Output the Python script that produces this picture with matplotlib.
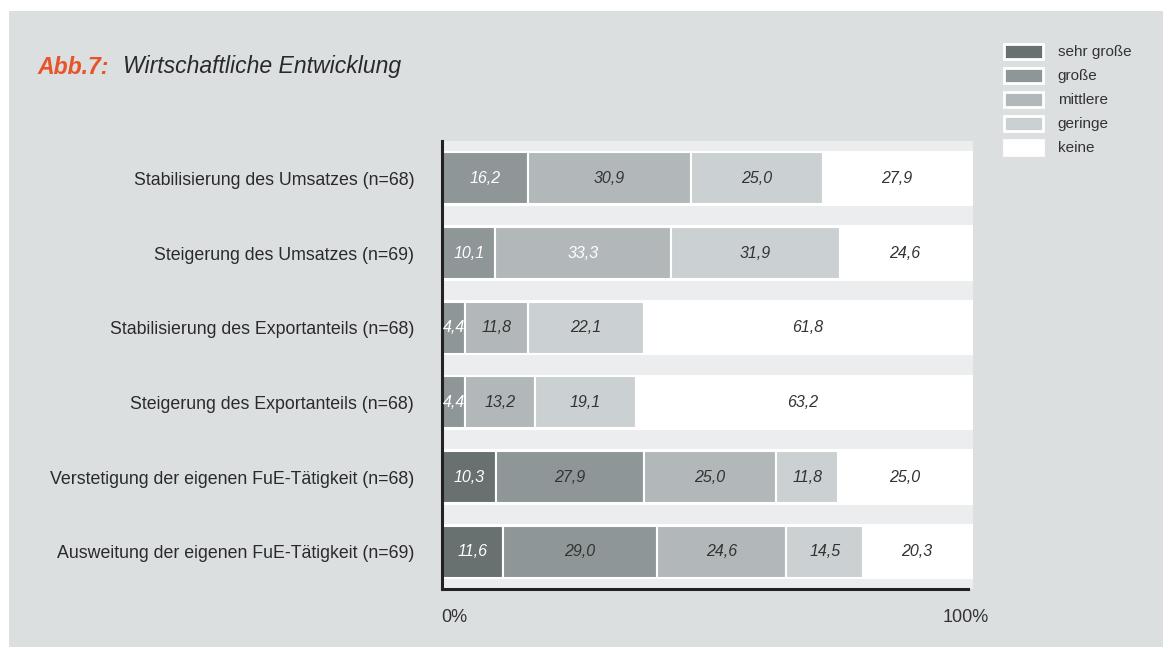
import matplotlib
import matplotlib.pyplot as plt
from matplotlib.patches import Rectangle, Patch

matplotlib.use('Agg')
plt.rcParams['font.family'] = ['Liberation Sans', 'DejaVu Sans']

categories = ['Stabilisierung des Umsatzes (n=68)',
              'Steigerung des Umsatzes (n=69)',
              'Stabilisierung des Exportanteils (n=68)',
              'Steigerung des Exportanteils (n=68)',
              'Verstetigung der eigenen FuE-Tätigkeit (n=68)',
              'Ausweitung der eigenen FuE-Tätigkeit (n=69)']
levels = ['sehr große', 'große', 'mittlere', 'geringe', 'keine']

sehr_gross = [0, 0, 0, 0, 10.3, 11.6]
gross = [16.2, 10.1, 4.4, 4.4, 27.9, 29.0]
mittlere = [30.9, 33.3, 11.8, 13.2, 25.0, 24.6]
geringe = [25.0, 31.9, 22.1, 19.1, 11.8, 14.5]
keine = [27.9, 24.6, 61.8, 63.2, 25.0, 20.3]

# labels drawn in white (row, level)
white_labels = [(0, 1), (1, 1), (1, 2), (2, 1), (3, 1), (4, 0), (5, 0)]

colors = ['#687070', '#8f9698', '#b2b8b9', '#cbd0d2', '#ffffff']
panel = '#dcdfe0'
band = '#ebedee'

fig = plt.figure(figsize=(11.65, 6.47), dpi=100, facecolor='white')
fig.patches.append(Rectangle((9 / 1165, 0), 1154 / 1165, 636 / 647,
                             transform=fig.transFigure, facecolor=panel,
                             edgecolor='none', zorder=-10))

ax = fig.add_axes([442 / 1165, 58 / 647, 531 / 1165, 448 / 647])
ax.set_facecolor(band)

series = [sehr_gross, gross, mittlere, geringe, keine]
n = len(categories)
ypos = [n - 1 - i for i in range(n)]

for y in ypos:
    ax.axhspan(y - 0.37, y + 0.37, color='white', lw=0, zorder=0)

left = [0.0] * n
for j, vals in enumerate(series):
    ax.barh(ypos, vals, left=left, height=0.70, color=colors[j],
            edgecolor='white', linewidth=1.5, zorder=2)
    for i, v in enumerate(vals):
        if v > 0:
            tc = 'white' if (i, j) in white_labels else '#333333'
            ax.text(left[i] + v / 2, ypos[i], f'{v:.1f}'.replace('.', ','),
                    ha='center', va='center', fontsize=11.5, style='italic',
                    color=tc, zorder=3)
    left = [l + v for l, v in zip(left, vals)]

ax.set_xlim(0, 100.5)
ax.set_ylim(-0.5, n - 0.5)
ax.set_yticks(ypos)
ax.set_yticklabels(categories, fontsize=12.8, color='#2a2a2a')
ax.tick_params(axis='y', length=0, pad=20)
ax.set_xticks([])
for s in ['top', 'right']:
    ax.spines[s].set_visible(False)
ax.spines['left'].set_linewidth(2.2)
ax.spines['bottom'].set_linewidth(2.2)
ax.spines['left'].set_color('#222222')
ax.spines['bottom'].set_color('#222222')
ax.spines['bottom'].set_bounds(0, 99.5)

ax.text(-0.002, -0.045, '0%', transform=ax.transAxes, ha='left', va='top',
        fontsize=13, color='#333333')
ax.text(1.03, -0.045, '100%', transform=ax.transAxes, ha='right', va='top',
        fontsize=13, color='#333333')

fig.text(37 / 1165, 1 - 67 / 647, 'Abb.7:', fontsize=16.6, fontweight='bold',
         style='italic', color='#e8542a', va='center', ha='left')
fig.text(123 / 1165, 1 - 67 / 647, 'Wirtschaftliche Entwicklung', fontsize=16.6,
         style='italic', color='#2a2a2a', va='center', ha='left')

handles = [Patch(facecolor=c, edgecolor='white', linewidth=2) for c in colors]
fig.legend(handles, levels, loc='upper left',
           bbox_to_anchor=(996 / 1165, 1 - 36 / 647), frameon=False,
           fontsize=11, handlelength=2.6, handleheight=1.15,
           labelspacing=0.54, handletextpad=0.95, borderpad=0,
           labelcolor='#333333')

fig.savefig('out.png', dpi=100, facecolor=fig.get_facecolor())
